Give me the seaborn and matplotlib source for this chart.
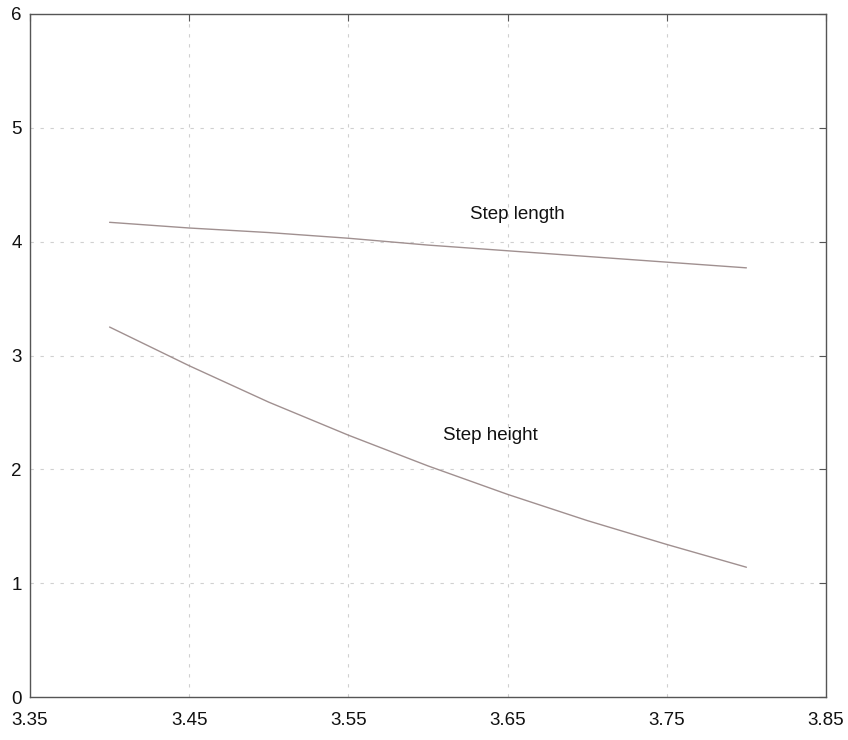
import matplotlib
matplotlib.use("Agg")
import matplotlib.pyplot as plt
import seaborn as sns
import pandas as pd

speed = [3.40, 3.45, 3.50, 3.55, 3.60, 3.65, 3.70, 3.75, 3.80]
step_length = [4.17, 4.12, 4.08, 4.03, 3.97, 3.92, 3.87, 3.82, 3.77]
step_height = [3.25, 2.91, 2.59, 2.30, 2.03, 1.78, 1.55, 1.34, 1.14]
x_ticks = [3.35, 3.45, 3.55, 3.65, 3.75, 3.85]
y_ticks = [0, 1, 2, 3, 4, 5, 6]

sns.set_style("white")
plt.rcParams['font.family'] = ['Liberation Sans', 'DejaVu Sans']

df = pd.concat([
    pd.DataFrame({"x": speed, "y": step_length, "series": "Step length"}),
    pd.DataFrame({"x": speed, "y": step_height, "series": "Step height"}),
])

fig = plt.figure(figsize=(8.48, 7.40), dpi=100)
ax = fig.add_axes([30 / 848, 43 / 740, 796 / 848, 683 / 740])

sns.lineplot(data=df, x="x", y="y", units="series", estimator=None,
             color="#a09090", linewidth=1.0, ax=ax, legend=False)

ax.set_xlim(3.35, 3.85)
ax.set_ylim(0, 6)
ax.set_xticks(x_ticks)
ax.set_xticklabels([f"{t:.2f}" for t in x_ticks])
ax.set_yticks(y_ticks)
ax.set_xlabel("")
ax.set_ylabel("")

ax.grid(True, color="#d0d0d0", linestyle=(0, (3, 6)), linewidth=0.8)
ax.set_axisbelow(True)

for s in ax.spines.values():
    s.set_color("#555555")
    s.set_linewidth(1.0)

ax.tick_params(axis="both", direction="in", length=5, width=0.8,
               colors="#555555", labelcolor="#111111", labelsize=13.5,
               top=True, right=True)
ax.tick_params(axis="x", pad=11)
ax.tick_params(axis="y", pad=6)

ax.text(3.656, 4.24, "Step length", fontsize=13.5, color="#111111",
        ha="center", va="center")
ax.text(3.639, 2.30, "Step height", fontsize=13.5, color="#111111",
        ha="center", va="center")

fig.savefig("out.png", dpi=100)
